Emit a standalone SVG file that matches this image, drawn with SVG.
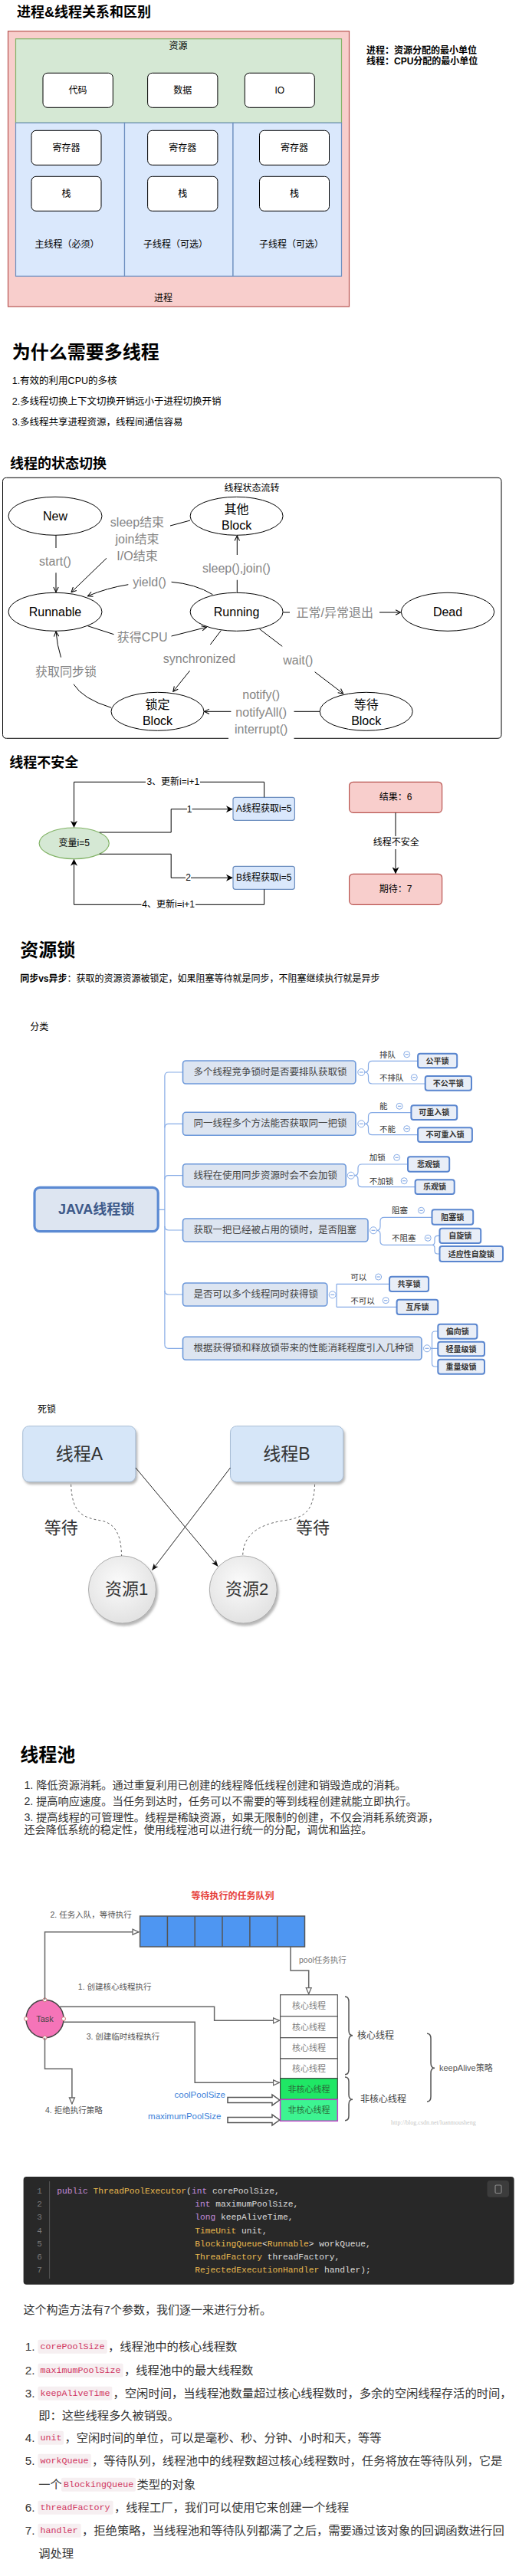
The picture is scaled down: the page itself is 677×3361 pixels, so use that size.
<svg xmlns="http://www.w3.org/2000/svg" width="677" height="3361" viewBox="0 0 677 3361">
<style>
svg{font-family:"Liberation Sans","Noto Sans CJK SC",sans-serif}
text{dominant-baseline:central;fill:#000}
.m{text-anchor:middle}
.e{text-anchor:end}
.b{font-weight:bold}
.h24{font-size:24px;font-weight:bold}
.h18{font-size:18px;font-weight:bold}
.n12{font-size:12px}
.box{fill:#fff;stroke:#000;stroke-width:1}
.ell{fill:#fff;stroke:#000;stroke-width:1}
.st{font-size:16px}
.gl{font-size:16px;fill:#858585}
.ln{fill:none;stroke:#000;stroke-width:1}
.mmb{fill:#dde5f1;stroke:#6c98da;stroke-width:1.6}
.mmt{font-size:12.5px;fill:#444}
.mml{fill:none;stroke:#86abe6;stroke-width:1.2}
.mmc{fill:#fff;stroke:#86abe6;stroke-width:1}
.lf{fill:#e9eef7;stroke:#5a86cf;stroke-width:2}
.lft{font-size:10px;fill:#333;font-weight:bold}
.sub{font-size:10.5px;fill:#333}
.pl{fill:none;stroke:#666;stroke-width:1.5}
.pt{font-size:10.5px;fill:#555}
.cell{fill:#fff;stroke:#555;stroke-width:1.2}
.ct{font-size:11px;fill:#808080}
.code{font-family:"Liberation Mono","Noto Sans CJK SC",monospace;font-size:11.25px;fill:#dcdcdc}
.kw{fill:#c28ad6}
.ty{fill:#e9b84e}
.num{font-family:"Liberation Mono",monospace;font-size:11px;fill:#7a7a7a}
.li{font-size:15.3px;fill:#333}
.cs{fill:#f6eff1}
.cst{font-family:"Liberation Mono",monospace;font-size:11.7px;fill:#d0355f}
.pt14{font-size:14.2px;fill:#333}
</style>
<defs>
<marker id="ao" viewBox="0 0 10 10" refX="9" refY="5" markerWidth="8" markerHeight="8" orient="auto" markerUnits="userSpaceOnUse"><path d="M1,1 L9,5 L1,9" fill="none" stroke="#000" stroke-width="1.3"/></marker>
<marker id="af" viewBox="0 0 10 10" refX="9" refY="5" markerWidth="9" markerHeight="9" orient="auto" markerUnits="userSpaceOnUse"><path d="M0,0 L10,5 L0,10 L3,5 z" fill="#000"/></marker>
<marker id="ah" viewBox="0 0 10 10" refX="9" refY="5" markerWidth="10" markerHeight="10" orient="auto" markerUnits="userSpaceOnUse"><path d="M1,1.5 L9,5 L1,8.5 z" fill="#fff" stroke="#666" stroke-width="1.3"/></marker>
<marker id="ad" viewBox="0 0 10 10" refX="9" refY="5" markerWidth="9" markerHeight="9" orient="auto" markerUnits="userSpaceOnUse"><path d="M0,1 L10,5 L0,9 L2.5,5 z" fill="#111"/></marker>
<radialGradient id="rg" cx="0.45" cy="0.4" r="0.7"><stop offset="0" stop-color="#fbfbfb"/><stop offset="1" stop-color="#dedede"/></radialGradient>
<filter id="sh" x="-10%" y="-10%" width="130%" height="130%"><feDropShadow dx="2" dy="3" stdDeviation="1.5" flood-color="#888" flood-opacity="0.6"/></filter>
</defs>

<!-- ===== Section 1: process & thread ===== -->
<g id="title1"><text x="22" y="16" class="h18">进程&amp;线程关系和区别</text></g>
<g id="process">
<rect x="10.5" y="40.7" width="445" height="359.3" fill="#f8cecc" stroke="#b85450" stroke-width="1.2"/>
<text x="213" y="389" class="m n12">进程</text>
</g>
<g id="resources">
<rect x="20.5" y="50.7" width="425" height="109.6" fill="#d5e8d4" stroke="#82b366" stroke-width="1.2"/>
<text x="232.5" y="59.5" class="m n12">资源</text>
</g>
<g id="res-code"><rect x="56" y="95.3" width="91.3" height="45" rx="6" class="box"/><text x="101.6" y="117.8" class="m n12">代码</text></g>
<g id="res-data"><rect x="192.6" y="95.3" width="91.3" height="45" rx="6" class="box"/><text x="238.2" y="117.8" class="m n12">数据</text></g>
<g id="res-io"><rect x="319.3" y="95.3" width="91" height="45" rx="6" class="box"/><text x="364.8" y="117.8" class="m n12">IO</text></g>
<g id="thread-main">
<rect x="20.5" y="160.3" width="142" height="200" fill="#dae8fc" stroke="#6c8ebf" stroke-width="1.2"/>
<rect x="41" y="170.3" width="91" height="45" rx="6" class="box"/><text x="86.5" y="192.8" class="m n12">寄存器</text>
<rect x="41" y="230.3" width="91" height="45" rx="6" class="box"/><text x="86.5" y="252.8" class="m n12">栈</text>
<text x="87.4" y="319.3" class="m n12">主线程（必须）</text>
</g>
<g id="thread-sub1">
<rect x="162.5" y="160.3" width="141.5" height="200" fill="#dae8fc" stroke="#6c8ebf" stroke-width="1.2"/>
<rect x="192.6" y="170.3" width="91.3" height="45" rx="6" class="box"/><text x="238.2" y="192.8" class="m n12">寄存器</text>
<rect x="192.6" y="230.3" width="91.3" height="45" rx="6" class="box"/><text x="238.2" y="252.8" class="m n12">栈</text>
<text x="229" y="319.3" class="m n12">子线程（可选）</text>
</g>
<g id="thread-sub2">
<rect x="304" y="160.3" width="141.5" height="200" fill="#dae8fc" stroke="#6c8ebf" stroke-width="1.2"/>
<rect x="338.5" y="170.3" width="91" height="45" rx="6" class="box"/><text x="384" y="192.8" class="m n12">寄存器</text>
<rect x="338.5" y="230.3" width="91" height="45" rx="6" class="box"/><text x="384" y="252.8" class="m n12">栈</text>
<text x="380" y="319.3" class="m n12">子线程（可选）</text>
</g>
<g id="note1">
<text x="478" y="65.7" class="n12 b">进程：资源分配的最小单位</text>
<text x="478" y="80.3" class="n12 b">线程：CPU分配的最小单位</text>
</g>

<!-- ===== Section 2 ===== -->
<g id="why">
<text x="15.7" y="459.3" class="h24">为什么需要多线程</text>
<text x="15.7" y="497.3" font-size="12.5">1.有效的利用CPU的多核</text>
<text x="15.7" y="524" font-size="12.5">2.多线程切换上下文切换开销远小于进程切换开销</text>
<text x="15.7" y="550.7" font-size="12.5">3.多线程共享进程资源，线程间通信容易</text>
</g>

<!-- ===== Section 3: states ===== -->
<g id="title-state"><text x="13" y="605" class="h18">线程的状态切换</text></g>
<g id="state-frame">
<path d="M298 963.3 H8.5 Q3.5 963.3 3.5 958.3 V628.3 Q3.5 623.3 8.5 623.3 H649 Q654 623.3 654 628.3 V958.3 Q654 963.3 649 963.3 H383.5" class="ln"/>
<text x="328.5" y="636.7" class="m n12">线程状态流转</text>
</g>
<g id="st-new"><ellipse cx="72" cy="673.3" rx="61" ry="25" class="ell"/><text x="72" y="673.3" class="m st">New</text></g>
<g id="st-other"><ellipse cx="308.6" cy="673.3" rx="60.5" ry="25" class="ell"/><text x="308.6" y="664.5" class="m st">其他</text><text x="308.6" y="685" class="m st">Block</text></g>
<g id="st-runnable"><ellipse cx="72" cy="798.3" rx="61" ry="25" class="ell"/><text x="72" y="798.3" class="m st">Runnable</text></g>
<g id="st-running"><ellipse cx="308.6" cy="798.3" rx="60.5" ry="25" class="ell"/><text x="308.6" y="798.3" class="m st">Running</text></g>
<g id="st-dead"><ellipse cx="584" cy="798.3" rx="60.7" ry="25" class="ell"/><text x="584" y="798.3" class="m st">Dead</text></g>
<g id="st-lock"><ellipse cx="205.5" cy="928.3" rx="60.5" ry="25" class="ell"/><text x="205.5" y="919.5" class="m st">锁定</text><text x="205.5" y="940" class="m st">Block</text></g>
<g id="st-wait"><ellipse cx="477.7" cy="928.3" rx="60.5" ry="25" class="ell"/><text x="477.7" y="919.5" class="m st">等待</text><text x="477.7" y="940" class="m st">Block</text></g>
<g id="state-connectors">
<path d="M73 698.3 V715" class="ln"/><path d="M73 747.3 V772.5" class="ln" marker-end="url(#ao)"/>
<path d="M248 679 L222 686" class="ln"/><path d="M139 728.3 L93 772.7" class="ln" marker-end="url(#ao)"/>
<path d="M309.3 772.7 V756.7" class="ln"/><path d="M309.3 724 V699" class="ln" marker-end="url(#ao)"/>
<path d="M277.4 775.7 Q255 762 223.6 759.3" class="ln"/><path d="M167.3 762.7 Q140 767 114.4 777.7" class="ln" marker-end="url(#ao)"/>
<path d="M114.4 816.7 L148.5 827.7" class="ln"/><path d="M223.6 830 L269.5 818.3" class="ln" marker-end="url(#ao)"/>
<path d="M369.3 799 H378" class="ln"/><path d="M495 799 H522.5" class="ln" marker-end="url(#ao)"/>
<path d="M288.3 822.7 L274.3 841" class="ln"/><path d="M247.7 875 L225.8 902.3" class="ln" marker-end="url(#ao)"/>
<path d="M338.5 820.7 L368.2 843.3" class="ln"/><path d="M410.6 876.7 L447.7 905" class="ln" marker-end="url(#ao)"/>
<path d="M417.2 928.3 H383.5" class="ln"/><path d="M301.4 928.3 H266.5" class="ln" marker-end="url(#ao)"/>
<path d="M145 923.3 Q108 912 96 892.7" class="ln"/><path d="M79.5 857.7 Q74.5 842 73 824" class="ln" marker-end="url(#ao)"/>
<text x="72" y="732.7" class="m gl">start()</text>
<text x="179" y="681" class="m gl">sleep结束</text>
<text x="179" y="703.3" class="m gl">join结束</text>
<text x="179" y="725.7" class="m gl">I/O结束</text>
<text x="308.4" y="741.7" class="m gl">sleep(),join()</text>
<text x="195" y="759.3" class="m gl">yield()</text>
<text x="436.8" y="799" class="m gl">正常/异常退出</text>
<text x="185.6" y="831" class="m gl">获得CPU</text>
<text x="260" y="859.3" class="m gl">synchronized</text>
<text x="388.8" y="861" class="m gl">wait()</text>
<text x="86" y="876" class="m gl">获取同步锁</text>
<text x="340.7" y="906.7" class="m gl">notify()</text>
<text x="340.7" y="929.3" class="m gl">notifyAll()</text>
<text x="340.7" y="951" class="m gl">interrupt()</text>
</g>

<!-- ===== Section 4: unsafe ===== -->
<g id="title-unsafe"><text x="12.2" y="995" class="h18">线程不安全</text></g>
<g id="var-i"><ellipse cx="96.7" cy="1100.3" rx="45.6" ry="20.3" fill="#d5e8d4" stroke="#82b366" stroke-width="1.2"/><text x="96.7" y="1100.3" class="m n12">变量i=5</text></g>
<g id="thread-a"><rect x="304" y="1040.3" width="80.4" height="30" rx="3" fill="#dae8fc" stroke="#6c8ebf" stroke-width="1.2"/><text x="344.2" y="1055.3" class="m n12">A线程获取i=5</text></g>
<g id="thread-b"><rect x="304" y="1130.3" width="80.4" height="30" rx="3" fill="#dae8fc" stroke="#6c8ebf" stroke-width="1.2"/><text x="344.2" y="1145.3" class="m n12">B线程获取i=5</text></g>
<g id="result"><rect x="455.6" y="1020.3" width="121" height="40" rx="5" fill="#f8cecc" stroke="#b85450" stroke-width="1.2"/><text x="516" y="1040.3" class="m n12">结果：6</text></g>
<g id="expect"><rect x="455.6" y="1140.3" width="121" height="40" rx="5" fill="#f8cecc" stroke="#b85450" stroke-width="1.2"/><text x="516" y="1160.3" class="m n12">期待：7</text></g>
<g id="unsafe-connectors">
<path d="M129.7 1086 H223.2 V1055.7 H244" class="ln"/><path d="M250.5 1055.7 H303" class="ln" marker-end="url(#af)"/>
<text x="247.2" y="1055.7" class="m n12">1</text>
<path d="M129.7 1114.3 H223.2 V1145.3 H242" class="ln"/><path d="M249 1145.3 H303" class="ln" marker-end="url(#af)"/>
<text x="245.5" y="1145.3" class="m n12">2</text>
<path d="M344.6 1040.3 V1020.3 H261" class="ln"/><path d="M190 1020.3 H96.5 V1079" class="ln" marker-end="url(#af)"/>
<text x="225.8" y="1020.3" class="m n12">3、更新i=i+1</text>
<path d="M344.6 1160.3 V1180.3 H255" class="ln"/><path d="M184.5 1180.3 H96.5 V1121.7" class="ln" marker-end="url(#af)"/>
<text x="219.7" y="1180.3" class="m n12">4、更新i=i+1</text>
<path d="M516 1060.3 V1091" class="ln"/><path d="M516 1108 V1139.3" class="ln" marker-end="url(#af)"/>
<text x="516.7" y="1099.3" class="m n12">线程不安全</text>
</g>

<!-- ===== Section 5: locks ===== -->
<g id="title-lock"><text x="26.2" y="1239.3" class="h24">资源锁</text></g>
<g id="sync-note"><text x="26.2" y="1277.3" class="n12"><tspan class="b">同步vs异步</tspan>：获取的资源资源被锁定，如果阻塞等待就是同步，不阻塞继续执行就是异步</text></g>
<g id="cat-label"><text x="39.3" y="1340" class="n12">分类</text></g>

<g id="mm-connectors">
<path class="mml" d="M206.2 1578.3 H214.9 M214.9 1404 V1754.3"/>
<path class="mml" d="M214.9 1404 Q214.9 1399 219.9 1399 H238.5"/>
<path class="mml" d="M214.9 1471.3 Q214.9 1466.3 219.9 1466.3 H238.5"/>
<path class="mml" d="M214.9 1538.7 Q214.9 1533.7 219.9 1533.7 H238.5"/>
<path class="mml" d="M214.9 1600 Q214.9 1605 219.9 1605 H238.5"/>
<path class="mml" d="M214.9 1684 Q214.9 1689 219.9 1689 H238.5"/>
<path class="mml" d="M214.9 1754.3 Q214.9 1759.3 219.9 1759.3 H238.5"/>
<path class="mml" d="M475.8 1399 Q480.5 1399 480.5 1394 V1389.3 Q480.5 1384.3 485.5 1384.3 H545.1 M475.8 1399 Q480.5 1399 480.5 1404 V1409 Q480.5 1414 485.5 1414 H554.7"/>
<path class="mml" d="M475.8 1466.3 Q480.5 1466.3 480.5 1461.3 V1456.7 Q480.5 1451.7 485.5 1451.7 H536.4 M475.8 1466.3 Q480.5 1466.3 480.5 1471.3 V1475.7 Q480.5 1480.7 485.5 1480.7 H545.1"/>
<path class="mml" d="M462.3 1533.7 Q467 1533.7 467 1528.7 V1524 Q467 1519 472 1519 H532 M462.3 1533.7 Q467 1533.7 467 1538.7 V1543.7 Q467 1548.7 472 1548.7 H541.6"/>
<path class="mml" d="M491.5 1605.3 Q496 1605.3 496 1600.3 V1593.3 Q496 1588.3 501 1588.3 H563.5 M491.5 1605.3 Q496 1605.3 496 1610.3 V1619.3 Q496 1624.3 501 1624.3 H563.5"/>
<path class="mml" d="M563.5 1624.3 Q567 1624.3 567 1620.3 V1616.3 Q567 1612.3 571 1612.3 H573.5 M563.5 1624.3 Q567 1624.3 567 1628.3 V1632 Q567 1636 571 1636 H573.5"/>
<path class="mml" d="M438.2 1689.3 H439 M439 1675.3 V1705.3 M439 1675.3 H508 M439 1705.3 H517.6"/>
<path class="mml" d="M561.5 1759.3 H571.3 M571.3 1737 H567.5 Q563.5 1737 563.5 1741 V1779 Q563.5 1783 567.5 1783 H571.3"/>
</g>

<g id="mm-root"><rect x="45" y="1549.3" width="161.2" height="57.4" rx="7" fill="#dde5f1" stroke="#5b8ad3" stroke-width="3.2"/><text x="125.6" y="1578.3" class="m b" font-size="18" fill="#3e5a8a" style="fill:#3e5a8a">JAVA线程锁</text></g>
<g id="mm-b1"><rect x="238.5" y="1384" width="225.4" height="30" rx="4" class="mmb"/><text x="252.5" y="1399" class="mmt">多个线程竞争锁时是否要排队获取锁</text><circle cx="471.3" cy="1399" r="4.5" class="mmc"/><path d="M468.8 1399 H473.8" class="mml"/></g>
<g id="mm-b2"><rect x="238.5" y="1451.3" width="225.4" height="30" rx="4" class="mmb"/><text x="252.5" y="1466.3" class="mmt">同一线程多个方法能否获取同一把锁</text><circle cx="471.3" cy="1466.3" r="4.5" class="mmc"/><path d="M468.8 1466.3 H473.8" class="mml"/></g>
<g id="mm-b3"><rect x="238.5" y="1518.7" width="212.7" height="30" rx="4" class="mmb"/><text x="252.5" y="1533.7" class="mmt">线程在使用同步资源时会不会加锁</text><circle cx="457.8" cy="1533.7" r="4.5" class="mmc"/><path d="M455.3 1533.7 H460.3" class="mml"/></g>
<g id="mm-b4"><rect x="238.5" y="1590" width="241.5" height="30" rx="4" class="mmb"/><text x="252.5" y="1605" class="mmt">获取一把已经被占用的锁时，是否阻塞</text><circle cx="487" cy="1605.3" r="4.5" class="mmc"/><path d="M484.5 1605.3 H489.5" class="mml"/></g>
<g id="mm-b5"><rect x="238.5" y="1674" width="188.3" height="30" rx="4" class="mmb"/><text x="252.5" y="1689" class="mmt">是否可以多个线程同时获得锁</text><circle cx="433.7" cy="1689.3" r="4.5" class="mmc"/><path d="M431.2 1689.3 H436.2" class="mml"/></g>
<g id="mm-b6"><rect x="238.5" y="1744.3" width="311.5" height="30" rx="4" class="mmb"/><text x="252.5" y="1759.3" class="mmt">根据获得锁和释放锁带来的性能消耗程度引入几种锁</text><circle cx="557" cy="1759.3" r="4.5" class="mmc"/><path d="M554.5 1759.3 H559.5" class="mml"/></g>

<g id="mm-sublabels">
<text x="495" y="1375.7" class="sub">排队</text><circle cx="530.7" cy="1375.7" r="4" class="mmc"/><path d="M528.5 1375.7 H532.9" class="mml"/>
<text x="495" y="1405.7" class="sub">不排队</text><circle cx="540.3" cy="1405.7" r="4" class="mmc"/><path d="M538.1 1405.7 H542.5" class="mml"/>
<text x="495" y="1443.3" class="sub">能</text><circle cx="521.1" cy="1443.3" r="4" class="mmc"/><path d="M518.9 1443.3 H523.3" class="mml"/>
<text x="495" y="1472.7" class="sub">不能</text><circle cx="530.7" cy="1472.7" r="4" class="mmc"/><path d="M528.5 1472.7 H532.9" class="mml"/>
<text x="481.8" y="1510.3" class="sub">加锁</text><circle cx="517.6" cy="1510.3" r="4" class="mmc"/><path d="M515.4 1510.3 H519.8" class="mml"/>
<text x="481.8" y="1540.7" class="sub">不加锁</text><circle cx="527.2" cy="1540.7" r="4" class="mmc"/><path d="M525 1540.7 H529.4" class="mml"/>
<text x="511" y="1579.3" class="sub">阻塞</text><circle cx="549.5" cy="1579.3" r="4" class="mmc"/><path d="M547.3 1579.3 H551.7" class="mml"/>
<text x="511" y="1615.3" class="sub">不阻塞</text><circle cx="558.2" cy="1615.3" r="4" class="mmc"/><path d="M556 1615.3 H560.4" class="mml"/>
<text x="457.3" y="1666" class="sub">可以</text><circle cx="493.6" cy="1666" r="4" class="mmc"/><path d="M491.4 1666 H495.8" class="mml"/>
<text x="457.3" y="1696.7" class="sub">不可以</text><circle cx="503.2" cy="1696.7" r="4" class="mmc"/><path d="M501 1696.7 H505.4" class="mml"/>
</g>

<g id="leaf-fair"><rect x="545.1" y="1374.7" width="51.1" height="18.6" rx="3" class="lf"/><text x="570.6" y="1384" class="m lft">公平锁</text></g>
<g id="leaf-unfair"><rect x="554.7" y="1404" width="60.3" height="18.7" rx="3" class="lf"/><text x="584.8" y="1413.3" class="m lft">不公平锁</text></g>
<g id="leaf-reentrant"><rect x="536.4" y="1442.3" width="59.8" height="18.7" rx="3" class="lf"/><text x="566.3" y="1451.7" class="m lft">可重入锁</text></g>
<g id="leaf-nonreentrant"><rect x="545.1" y="1471.3" width="70.8" height="18.7" rx="3" class="lf"/><text x="580.5" y="1480.7" class="m lft">不可重入锁</text></g>
<g id="leaf-pessimistic"><rect x="532" y="1509.3" width="54.2" height="19.4" rx="3" class="lf"/><text x="559.1" y="1519" class="m lft">悲观锁</text></g>
<g id="leaf-optimistic"><rect x="541.6" y="1539.3" width="51.1" height="18.7" rx="3" class="lf"/><text x="567.1" y="1548.7" class="m lft">乐观锁</text></g>
<g id="leaf-blocking"><rect x="563.5" y="1578.3" width="53.7" height="19.4" rx="3" class="lf"/><text x="590.3" y="1588" class="m lft">阻塞锁</text></g>
<g id="leaf-spin"><rect x="573.5" y="1602.7" width="53.7" height="19.3" rx="3" class="lf"/><text x="600.3" y="1612.3" class="m lft">自旋锁</text></g>
<g id="leaf-adaptive"><rect x="573.5" y="1626" width="82.5" height="20" rx="3" class="lf"/><text x="614.7" y="1636" class="m lft">适应性自旋锁</text></g>
<g id="leaf-shared"><rect x="508" y="1665.7" width="51.1" height="19.3" rx="3" class="lf"/><text x="533.5" y="1675.3" class="m lft">共享锁</text></g>
<g id="leaf-mutex"><rect x="517.6" y="1695.7" width="53.7" height="19.3" rx="3" class="lf"/><text x="544.4" y="1705.3" class="m lft">互斥锁</text></g>
<g id="leaf-biased"><rect x="571.3" y="1727.7" width="51.1" height="19" rx="3" class="lf"/><text x="596.8" y="1737.2" class="m lft">偏向锁</text></g>
<g id="leaf-light"><rect x="571.3" y="1750.7" width="60.7" height="18.6" rx="3" class="lf"/><text x="601.6" y="1760" class="m lft">轻量级锁</text></g>
<g id="leaf-heavy"><rect x="571.3" y="1773.7" width="60.7" height="19" rx="3" class="lf"/><text x="601.6" y="1783.2" class="m lft">重量级锁</text></g>

<!-- ===== Deadlock ===== -->
<g id="deadlock-label"><text x="48.9" y="1839.3" class="n12">死锁</text></g>
<g id="dl-a"><rect x="29.7" y="1860.7" width="147.2" height="72.6" rx="8" fill="#d6e6f8" stroke="#a9bed6" filter="url(#sh)"/><text x="103.3" y="1897" class="m" font-size="23" style="fill:#333">线程A</text></g>
<g id="dl-b"><rect x="300.5" y="1860.7" width="147.2" height="72.6" rx="8" fill="#d6e6f8" stroke="#a9bed6" filter="url(#sh)"/><text x="374" y="1897" class="m" font-size="23" style="fill:#333">线程B</text></g>
<g id="dl-r1"><circle cx="159.5" cy="2074" r="44" fill="url(#rg)" stroke="#aaa" filter="url(#sh)"/><text x="165" y="2073.3" class="m" font-size="22" style="fill:#333">资源1</text></g>
<g id="dl-r2"><circle cx="317.3" cy="2074" r="44" fill="url(#rg)" stroke="#aaa" filter="url(#sh)"/><text x="322" y="2073.3" class="m" font-size="22" style="fill:#333">资源2</text></g>
<g id="dl-connectors">
<path d="M176.9 1915 L284 2043.3" fill="none" stroke="#222" stroke-width="1" marker-end="url(#ad)"/>
<path d="M300.5 1915 L198.7 2048.3" fill="none" stroke="#222" stroke-width="1" marker-end="url(#ad)"/>
<path d="M92.6 1936.7 C94 1975 108 1980 132 1984 C152 1988 158 2005 158.6 2030" fill="none" stroke="#666" stroke-dasharray="3,3"/>
<path d="M410.6 1936.7 C409 1975 395 1980 370 1984 C330 1990 317 2008 316.7 2030" fill="none" stroke="#666" stroke-dasharray="3,3"/>
<text x="79.7" y="1993.3" class="m" font-size="22" style="fill:#333">等待</text>
<text x="408" y="1993.3" class="m" font-size="22" style="fill:#333">等待</text>
</g>

<!-- ===== Thread pool ===== -->
<g id="title-pool"><text x="26.2" y="2289.3" class="h24">线程池</text></g>
<g id="pool-list">
<text x="31.4" y="2329.3" class="pt14">1. 降低资源消耗。通过重复利用已创建的线程降低线程创建和销毁造成的消耗。</text>
<text x="31.4" y="2350" class="pt14">2. 提高响应速度。当任务到达时，任务可以不需要的等到线程创建就能立即执行。</text>
<text x="31.4" y="2371" class="pt14">3. 提高线程的可管理性。线程是稀缺资源，如果无限制的创建，不仅会消耗系统资源，</text>
<text x="31.4" y="2387" class="pt14">还会降低系统的稳定性，使用线程池可以进行统一的分配，调优和监控。</text>
</g>

<g id="queue">
<text x="303.6" y="2474" class="m b" font-size="12" style="fill:#e6413b">等待执行的任务队列</text>
<rect x="182.6" y="2500" width="214.9" height="40" fill="#4e96f2" stroke="#555" stroke-width="1.5"/>
<path d="M218.4 2500 V2540 M254.2 2500 V2540 M290 2500 V2540 M325.9 2500 V2540 M361.7 2500 V2540" stroke="#555" stroke-width="1.5"/>
</g>
<g id="task"><ellipse cx="58.5" cy="2634" rx="24.5" ry="24.7" fill="#f574b8" stroke="#444" stroke-width="1.5"/><text x="58.5" y="2634" class="m" font-size="11" style="fill:#444">Task</text>
<circle cx="58.5" cy="2609.3" r="2.5" fill="#fff" stroke="#c77"/><circle cx="58.5" cy="2658.7" r="2.5" fill="#fff" stroke="#c77"/><circle cx="34" cy="2634" r="2.5" fill="#fff" stroke="#c77"/><circle cx="83" cy="2634" r="2.5" fill="#fff" stroke="#c77"/></g>
<g id="pool-threads">
<rect x="365.6" y="2602.7" width="74.7" height="28" class="cell"/><text x="403" y="2616.7" class="m ct">核心线程</text>
<rect x="365.6" y="2630.7" width="74.7" height="28" class="cell"/><text x="403" y="2644.7" class="m ct">核心线程</text>
<rect x="365.6" y="2658.7" width="74.7" height="27.3" class="cell"/><text x="403" y="2672.4" class="m ct">核心线程</text>
<rect x="365.6" y="2686" width="74.7" height="25.7" class="cell"/><text x="403" y="2698.9" class="m ct">核心线程</text>
<rect x="365.6" y="2711.7" width="74.7" height="27.6" fill="#1fe765" stroke="#444" stroke-width="1.2"/><text x="403" y="2725.5" class="m ct" style="fill:#2b6b3b">非核心线程</text>
<rect x="365.6" y="2739.3" width="74.7" height="28" fill="#3df491" stroke="#c040c8" stroke-width="1.5"/><text x="403" y="2753.3" class="m ct" style="fill:#2b6b3b">非核心线程</text>
</g>
<g id="braces">
<path d="M450 2605 Q455 2605 455 2612 V2649 Q455 2655.7 460 2655.7 Q455 2655.7 455 2662.5 V2700 Q455 2706.7 450 2706.7" fill="none" stroke="#555" stroke-width="1.5"/>
<text x="466" y="2655.7" font-size="12" style="fill:#444">核心线程</text>
<path d="M450 2710 Q455 2710 455 2716 V2733 Q455 2739.3 460 2739.3 Q455 2739.3 455 2745.5 V2760.5 Q455 2766.7 450 2766.7" fill="none" stroke="#555" stroke-width="1.5"/>
<text x="470" y="2739.3" font-size="12" style="fill:#444">非核心线程</text>
<path d="M557 2653.3 Q562 2653.3 562 2660 V2691.5 Q562 2698.3 567 2698.3 Q562 2698.3 562 2705 V2735.5 Q562 2742 557 2742" fill="none" stroke="#555" stroke-width="1.5"/>
<text x="573" y="2698.3" font-size="11" style="fill:#555">keepAlive策略</text>
</g>
<g id="pool-connectors">
<path d="M58.5 2609.3 V2520.7 H181" class="pl" marker-end="url(#ah)"/>
<path d="M379 2540 V2571 H402.7 V2601.5" class="pl" marker-end="url(#ah)"/>
<path d="M77.7 2618.3 H279.6 V2636.3 H364.5" class="pl" marker-end="url(#ah)"/>
<path d="M83 2638.3 H254.2 V2717.3 H364.5" class="pl" marker-end="url(#ah)"/>
<path d="M58.5 2658.7 V2699.3 H93.9 V2745" class="pl" marker-end="url(#ah)"/>
<text x="65.5" y="2498.3" class="pt">2. 任务入队，等待执行</text>
<text x="390" y="2556.7" class="pt" style="fill:#777">pool任务执行</text>
<text x="101.8" y="2592" class="pt">1. 创建核心线程执行</text>
<text x="112.7" y="2656.7" class="pt">3. 创建临时线程执行</text>
<text x="59" y="2752.7" class="pt">4. 拒绝执行策略</text>
<polygon points="297,2736.5 355,2736.5 355,2733 364.7,2740 355,2747 355,2743.5 297,2743.5" fill="#fff" stroke="#555" stroke-width="1.5"/>
<polygon points="297,2762.5 355,2762.5 355,2759 364.7,2766 355,2773 355,2769.5 297,2769.5" fill="#fff" stroke="#555" stroke-width="1.5"/>
<text x="294" y="2732.7" class="e" font-size="11.5" style="fill:#3b7fd9">coolPoolSize</text>
<text x="288.3" y="2760.7" class="e" font-size="11.5" style="fill:#3b7fd9">maximumPoolSize</text>
<text x="510" y="2769.3" font-family="Liberation Serif, serif" font-size="8" style="fill:#c8c8c8">http://blog.csdn.net/luanmousheng</text>
</g>

<!-- ===== Code ===== -->
<g id="code-block">
<rect x="30.6" y="2840" width="640" height="140.7" rx="4" fill="#282828"/>
<rect x="635.5" y="2845" width="28.5" height="21.7" rx="4" fill="#3c3c3c"/>
<rect x="646" y="2851" width="8" height="10.5" rx="1.5" fill="none" stroke="#8a8a8a" stroke-width="1.2"/>
<path d="M64.6 2846 V2973" stroke="#555" stroke-width="1"/>
<text x="51.5" y="2859.3" class="m num">1</text>
<text x="51.5" y="2876.4" class="m num">2</text>
<text x="51.5" y="2893.4" class="m num">3</text>
<text x="51.5" y="2910.5" class="m num">4</text>
<text x="51.5" y="2927.6" class="m num">5</text>
<text x="51.5" y="2944.6" class="m num">6</text>
<text x="51.5" y="2961.7" class="m num">7</text>
<text x="74.3" y="2859.3" class="code"><tspan class="kw">public</tspan> <tspan class="ty">ThreadPoolExecutor</tspan>(<tspan class="kw">int</tspan> corePoolSize,</text>
<text x="254.2" y="2876.4" class="code"><tspan class="kw">int</tspan> maximumPoolSize,</text>
<text x="254.2" y="2893.4" class="code"><tspan class="kw">long</tspan> keepAliveTime,</text>
<text x="254.2" y="2910.5" class="code"><tspan class="ty">TimeUnit</tspan> unit,</text>
<text x="254.2" y="2927.6" class="code"><tspan class="ty">BlockingQueue</tspan>&lt;<tspan class="ty">Runnable</tspan>&gt; workQueue,</text>
<text x="254.2" y="2944.6" class="code"><tspan class="ty">ThreadFactory</tspan> threadFactory,</text>
<text x="254.2" y="2961.7" class="code"><tspan class="ty">RejectedExecutionHandler</tspan> handler);</text>
</g>

<!-- ===== Params list ===== -->
<g id="params">
<text x="30.6" y="3013.3" font-size="15" style="fill:#333">这个构造方法有7个参数，我们逐一来进行分析。</text>

<text x="32.8" y="3061.7" class="li">1.</text>
<rect x="49.4" y="3052.7" width="90.4" height="18" rx="2" class="cs"/><text x="52.4" y="3061.7" class="cst">corePoolSize</text>
<text x="141" y="3061.7" class="li">，线程池中的核心线程数</text>

<text x="32.8" y="3092.7" class="li">2.</text>
<rect x="49.4" y="3083.7" width="111.3" height="18" rx="2" class="cs"/><text x="52.4" y="3092.7" class="cst">maximumPoolSize</text>
<text x="162" y="3092.7" class="li">，线程池中的最大线程数</text>

<text x="32.8" y="3122.7" class="li">3.</text>
<rect x="49.4" y="3113.7" width="96.9" height="18" rx="2" class="cs"/><text x="52.4" y="3122.7" class="cst">keepAliveTime</text>
<text x="147.5" y="3122.7" class="li">，空闲时间，当线程池数量超过核心线程数时，多余的空闲线程存活的时间，</text>
<text x="50.2" y="3151.7" class="li">即：这些线程多久被销毁。</text>

<text x="32.8" y="3180.7" class="li">4.</text>
<rect x="49.4" y="3171.7" width="33.6" height="18" rx="2" class="cs"/><text x="52.4" y="3180.7" class="cst">unit</text>
<text x="84.5" y="3180.7" class="li">，空闲时间的单位，可以是毫秒、秒、分钟、小时和天，等等</text>

<text x="32.8" y="3210.7" class="li">5.</text>
<rect x="49.4" y="3201.7" width="69.4" height="18" rx="2" class="cs"/><text x="52.4" y="3210.7" class="cst">workQueue</text>
<text x="120" y="3210.7" class="li">，等待队列，线程池中的线程数超过核心线程数时，任务将放在等待队列，它是</text>
<text x="50.2" y="3241.7" class="li">一个</text>
<rect x="80" y="3232.7" width="97" height="18" rx="2" class="cs"/><text x="83" y="3241.7" class="cst">BlockingQueue</text>
<text x="178.5" y="3241.7" class="li">类型的对象</text>

<text x="32.8" y="3271.7" class="li">6.</text>
<rect x="49.4" y="3262.7" width="98.2" height="18" rx="2" class="cs"/><text x="52.4" y="3271.7" class="cst">threadFactory</text>
<text x="149" y="3271.7" class="li">，线程工厂，我们可以使用它来创建一个线程</text>

<text x="32.8" y="3301.7" class="li">7.</text>
<rect x="49.4" y="3292.7" width="56.3" height="18" rx="2" class="cs"/><text x="52.4" y="3301.7" class="cst">handler</text>
<text x="107" y="3301.7" class="li">，拒绝策略，当线程池和等待队列都满了之后，需要通过该对象的回调函数进行回</text>
<text x="50.2" y="3331" class="li">调处理</text>
</g>
</svg>
